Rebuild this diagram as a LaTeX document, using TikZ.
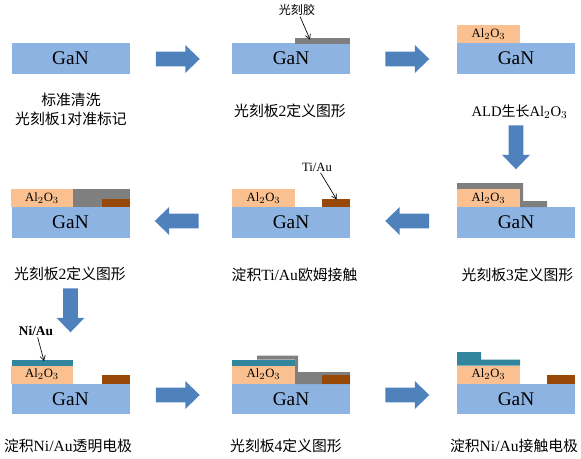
\documentclass[tikz,border=0pt]{standalone}
\usepackage{fontspec}
\setmainfont{Liberation Serif}
\newfontfamily\cjk{Noto Sans CJK SC}[Scale=0.95]
\usepackage{tikz}
\usetikzlibrary{arrows.meta,shapes.arrows}
\definecolor{ganblue}{HTML}{8DB3E2}
\definecolor{oxide}{HTML}{FAC090}
\definecolor{resist}{HTML}{7F7F7F}
\definecolor{ohmic}{HTML}{984807}
\definecolor{nilayer}{HTML}{31859C}
\definecolor{flow}{HTML}{4F81BD}
\tikzset{
  gan/.style={fill=ganblue, minimum width=88.5pt, minimum height=23pt, inner sep=0pt, font=\fontsize{14.5pt}{16pt}\selectfont},
  al/.style={fill=oxide, minimum width=47pt, minimum height=13.5pt, inner sep=0pt, font=\fontsize{9.5pt}{12pt}\selectfont},
  caption/.style={font=\fontsize{11.7pt}{14.4pt}\selectfont, align=center, inner sep=0pt},
  tag/.style={font=\fontsize{9.5pt}{11pt}\selectfont, inner sep=1pt},
  flowright/.style={single arrow, fill=flow, anchor=tail, minimum height=33pt, inner sep=5.25pt, single arrow head extend=5pt, single arrow tip angle=88},
  flowleft/.style={flowright, shape border rotate=180},
  flowdown/.style={flowright, shape border rotate=270},
  leader/.style={->, line width=0.5pt}
}
\begin{document}
\begin{tikzpicture}[x=0.75pt, y=-0.75pt, >={Straight Barb[length=3.5pt, width=4pt]}, line cap=butt]
\useasboundingbox (0,0) rectangle (581,458);
% top row
\node[gan] (g1) at (70.5,58.5) {GaN};
\node[gan] (g2) at (291,58.5) {GaN};
\node[gan] (g3) at (516,58.5) {GaN};
\fill[resist] (294.5,37.5) rectangle (350,43.5);
\node[al] (a3) at (488.5,34) {Al$_2$O$_3$};
\node[tag] (t1) at (297,9.5) {{\cjk 光刻胶}};
\coordinate (t1e) at (310,39.5);
\draw[leader] (t1) -- (t1e);
\node[caption] (c1) at (71,109.5) {{\cjk 标准清洗}\\{\cjk 光刻板}1{\cjk 对准标记}};
\node[caption] (c2) at (290,110.5) {{\cjk 光刻板}2{\cjk 定义图形}};
\node[caption, font=\fontsize{11pt}{14pt}\selectfont] (c3) at (519.5,111.5) {ALD{\cjk 生长}Al$_2$O$_3$};
\node[flowright] (f1) at (155.5,59) {};
\node[flowright] (f2) at (385,59) {};
\node[flowdown] (f3) at (516,125) {};
% middle row
\node[gan] (g4) at (516,222.5) {GaN};
\node[gan] (g5) at (291,222.5) {GaN};
\node[gan] (g6) at (70.5,222.5) {GaN};
\fill[resist] (457,183) -- (523,183) -- (523,201) -- (547,201) -- (547,207) -- (520,207) -- (520,189) -- (457,189) -- cycle;
\node[al] (a4) at (488.5,198) {Al$_2$O$_3$};
\node[al] (a5) at (263.5,198) {Al$_2$O$_3$};
\node[al] (a6) at (42,198) {Al$_2$O$_3$};
\fill[ohmic] (322,198.5) rectangle (350,207);
\fill[resist] (73,189) rectangle (129.5,207);
\fill[ohmic] (101.5,198.5) rectangle (129.5,207);
\node[tag] (t2) at (317,167) {Ti/Au};
\coordinate (t2e) at (336.7,199.5);
\draw[leader] (t2) -- (t2e);
\node[caption] (c4) at (517.5,275) {{\cjk 光刻板}3{\cjk 定义图形}};
\node[caption] (c5) at (294.5,275) {{\cjk 淀积}Ti/Au{\cjk 欧姆接触}};
\node[caption] (c6) at (70,274) {{\cjk 光刻板}2{\cjk 定义图形}};
\node[flowleft] (f4) at (429.5,221) {};
\node[flowleft] (f5) at (199,221) {};
\node[flowdown] (f6) at (70.5,288) {};
% bottom row
\node[gan] (g7) at (70.5,399) {GaN};
\node[gan] (g8) at (291,399) {GaN};
\node[gan] (g9) at (516,399) {GaN};
\node[al] (a7) at (42,374.5) {Al$_2$O$_3$};
\node[al] (a8) at (263.5,374.5) {Al$_2$O$_3$};
\node[al] (a9) at (488.5,374.5) {Al$_2$O$_3$};
\fill[nilayer] (11.5,359.5) rectangle (73,365.5);
\fill[ohmic] (101.5,375) rectangle (129.5,384);
\fill[nilayer] (232,359.5) rectangle (295,365.5);
\fill[resist] (257,355.5) -- (298,355.5) -- (298,372) -- (350,372) -- (350,384) -- (295,384) -- (295,359.5) -- (257,359.5) -- cycle;
\fill[ohmic] (322,375) rectangle (350,384);
\fill[nilayer] (457,352) -- (481,352) -- (481,359.5) -- (520,359.5) -- (520,365.5) -- (457,365.5) -- cycle;
\fill[ohmic] (547,375) rectangle (575,384);
\node[tag, font=\fontsize{10pt}{11pt}\selectfont\bfseries] (t3) at (36,331) {Ni/Au};
\coordinate (t3e) at (44,361);
\draw[leader] (t3) -- (t3e);
\node[caption] (c7) at (68,445.5) {{\cjk 淀积}Ni/Au{\cjk 透明电极}};
\node[caption] (c8) at (286,446) {{\cjk 光刻板}4{\cjk 定义图形}};
\node[caption] (c9) at (514,446) {{\cjk 淀积}Ni/Au{\cjk 接触电极}};
\node[flowright] (f7) at (155.5,395) {};
\node[flowright] (f8) at (385,395) {};
\end{tikzpicture}
\end{document}
